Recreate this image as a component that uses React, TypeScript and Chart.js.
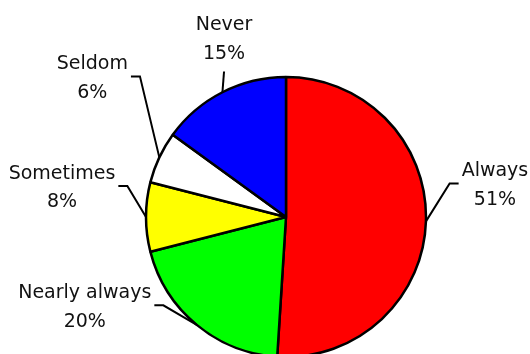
import React, { useEffect, useRef } from "react";
import { Chart, registerables } from "chart.js";

Chart.register(...registerables);

const categories = ["Always", "Nearly always", "Sometimes", "Seldom", "Never"];
const percentages = [51, 20, 8, 6, 15];
const sliceColors = ["#FF0000", "#00FF00", "#FFFF00", "#FFFFFF", "#0000FF"];

// label block centre offsets relative to the slice's outer-arc mid point (layout only)
const labelOffsets: [number, number][] = [
  [69, -38],
  [-112, -19.5],
  [-84, -31],
  [-67, -81],
  [1.6, -55],
];

const FONT = '19px "DejaVu Sans"';
const LINE_SPACING = 28.5;
const CAP = 14;

const leaderPlugin = {
  id: "leaderLabels",
  afterDatasetsDraw(chart: any) {
    const ctx: CanvasRenderingContext2D = chart.ctx;
    const meta = chart.getDatasetMeta(0);
    ctx.save();
    ctx.font = FONT;
    ctx.fillStyle = "#111";
    ctx.strokeStyle = "#000";
    ctx.lineWidth = 2;
    ctx.textAlign = "center";
    ctx.textBaseline = "alphabetic";
    meta.data.forEach((arc: any, i: number) => {
      const p = arc.getProps(["x", "y", "startAngle", "endAngle", "outerRadius"], true);
      const mid = (p.startAngle + p.endAngle) / 2;
      const ax = p.x + Math.cos(mid) * p.outerRadius;
      const ay = p.y + Math.sin(mid) * p.outerRadius;
      const [ox, oy] = labelOffsets[i];
      const cx = ax + ox;
      const cy = ay + oy;
      const l1 = categories[i];
      const l2 = percentages[i] + "%";
      const b1 = cy - (LINE_SPACING + CAP) / 2 + CAP;
      const b2 = b1 + LINE_SPACING;
      const w = Math.max(ctx.measureText(l1).width, ctx.measureText(l2).width);
      ctx.fillText(l1, cx, b1);
      ctx.fillText(l2, cx, b2);
      ctx.beginPath();
      if (Math.abs(ox) < w / 2) {
        ctx.moveTo(ax, ay);
        ctx.lineTo(cx, b2 + 13);
      } else {
        const side = ox > 0 ? -1 : 1;
        const endX = cx + side * (w / 2 + 3);
        const elbowX = endX + side * 9;
        ctx.moveTo(ax, ay);
        ctx.lineTo(elbowX, cy);
        ctx.lineTo(endX, cy);
      }
      ctx.stroke();
    });
    ctx.restore();
  },
};

export default function App() {
  const ref = useRef<HTMLCanvasElement>(null);
  useEffect(() => {
    if (!ref.current) return;
    const chart = new Chart(ref.current, {
      type: "pie",
      data: {
        labels: categories,
        datasets: [
          {
            data: percentages,
            backgroundColor: sliceColors,
            borderColor: "#000",
            borderWidth: 2.5,
            radius: 140,
            clip: false as any,
          } as any,
        ],
      },
      options: {
        responsive: false,
        animation: false,
        layout: { padding: { left: 42, right: 0, top: 80, bottom: 0 } },
        plugins: {
          legend: { display: false },
          tooltip: { enabled: false },
        },
      },
      plugins: [leaderPlugin],
    });
    return () => chart.destroy();
  }, []);
  return (
    <div style={{ position: "fixed", left: 0, top: 0, width: 530, height: 354, background: "#fff" }}>
      <canvas ref={ref} width={530} height={354} style={{ display: "block" }} />
    </div>
  );
}
